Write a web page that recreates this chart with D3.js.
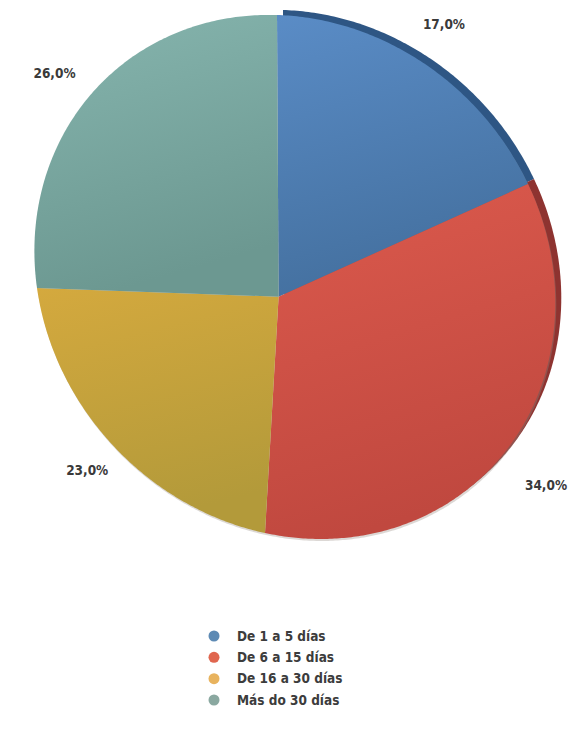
<!DOCTYPE html>
<html><head><meta charset="utf-8">
<script src="https://cdn.jsdelivr.net/npm/d3@7"></script>
<style>body{margin:0;background:#fff}svg{display:block}</style></head>
<body><div id="chart"></div>
<script>
const categories = ["De 1 a 5 días", "De 6 a 15 días", "De 16 a 30 días", "Más do 30 días"];
const values = [17, 34, 23, 26];
const faceLight = ["#5a8cc6", "#dc5a4d", "#d4a93e", "#86b5ae"];
const faceDark  = ["#44709f", "#c0483f", "#b39a3a", "#6c9891"];
const rimColors = ["#2e5684", "#8e3330", null, null];
const legendColors = ["#5d8ab4", "#e0664f", "#e8b35e", "#8aa8a0"];

const W = 577, H = 740;
const svg = d3.select("#chart").append("svg").attr("width", W).attr("height", H);
const defs = svg.append("defs");

const pie = d3.pie().sort(null).value(d => d)(values);

// perspective (tilted) view: the slice boundaries on the rim are pinned to where they sit in the picture
const rimAnchors = [[277, 15], [528, 184], [265, 533], [37, 288]];
function solve(A, b) {
  const n = b.length, M = A.map((r, i) => r.concat([b[i]]));
  for (let c = 0; c < n; c++) {
    let p = c; for (let r = c + 1; r < n; r++) if (Math.abs(M[r][c]) > Math.abs(M[p][c])) p = r;
    [M[c], M[p]] = [M[p], M[c]];
    for (let r = 0; r < n; r++) if (r !== c) {
      const f = M[r][c] / M[c][c];
      for (let k = c; k <= n; k++) M[r][k] -= f * M[c][k];
    }
  }
  return M.map((r, i) => r[n] / r[i]);
}
const src = pie.map(d => [Math.sin(d.startAngle), -Math.cos(d.startAngle)]);
const A = [], B = [];
src.forEach(([u, v], i) => {
  const [x, y] = rimAnchors[i];
  A.push([u, v, 1, 0, 0, 0, -u * x, -v * x]); B.push(x);
  A.push([0, 0, 0, u, v, 1, -u * y, -v * y]); B.push(y);
});
const h = solve(A, B);
const project = (u, v) => {
  const w = h[6] * u + h[7] * v + 1;
  return [(h[0] * u + h[1] * v + h[2]) / w, (h[3] * u + h[4] * v + h[5]) / w];
};
const pt = (angle, r) => project(r * Math.sin(angle), -r * Math.cos(angle));

const line = d3.line();
function slicePath(d, dx = 0, dy = 0) {
  const n = Math.max(8, Math.ceil((d.endAngle - d.startAngle) / 0.01));
  const pts = [pt(0, 0)];
  for (let i = 0; i <= n; i++) pts.push(pt(d.startAngle + (d.endAngle - d.startAngle) * i / n, 1));
  return line(pts.map(p => [p[0] + dx, p[1] + dy])) + "Z";
}

pie.forEach((d, i) => {
  const g = defs.append("linearGradient").attr("id", "g" + i)
    .attr("x1", 0).attr("y1", 0).attr("x2", 0.25).attr("y2", 1);
  g.append("stop").attr("offset", "0%").attr("stop-color", faceLight[i]);
  g.append("stop").attr("offset", "100%").attr("stop-color", faceDark[i]);
});

// 3D rim (side of the first slices)
const rim = svg.append("g");
pie.forEach((d, i) => {
  if (!rimColors[i]) return;
  rim.append("path").attr("d", slicePath(d, 6, -5)).attr("fill", rimColors[i]);
});
// soft shadow along lower edge
svg.append("g").selectAll("path").data(pie).join("path")
  .attr("d", d => slicePath(d, 1, 2)).attr("fill", "#9a8f86").attr("opacity", 0.35);

svg.append("g").selectAll("path").data(pie).join("path")
  .attr("d", d => slicePath(d)).attr("fill", (d, i) => `url(#g${i})`);

// percentage labels
const fmt = d3.formatLocale({decimal: ",", thousands: ".", grouping: [3], currency: ["", "€"]}).format(".1f");
const total = d3.sum(values);
const labelR = [1.14, 1.19, 1.18, 1.15];
const labelShift = [-0.01, -0.02, 0.0, -0.02];
svg.append("g").selectAll("text").data(pie).join("text")
  .attr("transform", (d, i) => `translate(${pt((d.startAngle + d.endAngle) / 2 + labelShift[i], labelR[i])})`)
  .attr("text-anchor", "middle").attr("dominant-baseline", "central")
  .attr("font-family", "'DejaVu Sans', sans-serif").attr("font-stretch", "condensed")
  .attr("font-weight", "bold").attr("font-size", 13.5).attr("fill", "#3a3a3a")
  .text(d => fmt(d.value / total * 100) + "%");

// legend
const ly = d3.scalePoint().domain(categories).range([636, 700]);
const leg = svg.append("g").selectAll("g").data(categories).join("g")
  .attr("transform", d => `translate(214,${ly(d)})`);
leg.append("circle").attr("r", 5.5).attr("fill", (d, i) => legendColors[i]);
leg.append("text").attr("x", 23).attr("dy", "0.35em")
  .attr("font-family", "'DejaVu Sans', sans-serif").attr("font-stretch", "condensed")
  .attr("font-weight", "bold").attr("font-size", 13.5).attr("fill", "#3c3c3c")
  .text(d => d);
</script></body></html>
